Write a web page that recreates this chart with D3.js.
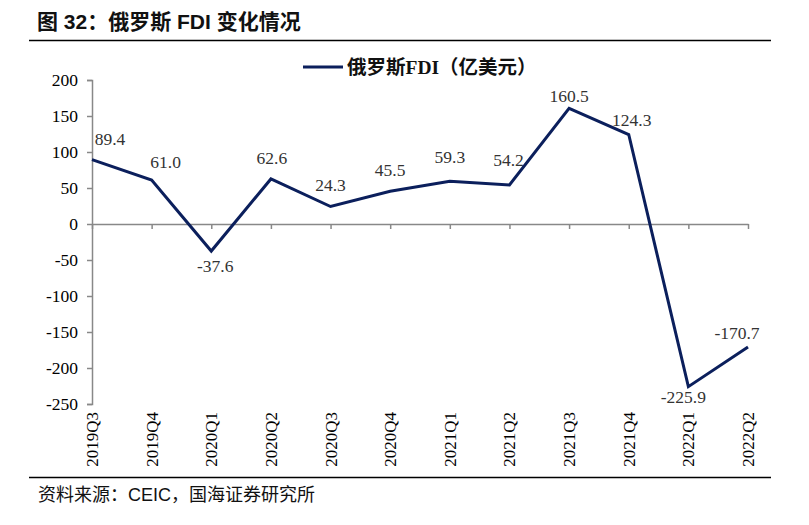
<!DOCTYPE html>
<html>
<head>
<meta charset="utf-8">
<script src="https://cdn.jsdelivr.net/npm/d3@7"></script>
<style>
  body { margin: 0; background: #fff; }
  svg { display: block; }
</style>
</head>
<body>
<script>
const width = 809;
const height = 525;

// 数据
const quarters = ["2019Q3", "2019Q4", "2020Q1", "2020Q2", "2020Q3", "2020Q4",
    "2021Q1", "2021Q2", "2021Q3", "2021Q4", "2022Q1", "2022Q2"];
const fdi = [89.4, 61.0, -37.6, 62.6, 24.3, 45.5, 59.3, 54.2, 160.5, 124.3, -225.9, -170.7];
const yTicks = [200, 150, 100, 50, 0, -50, -100, -150, -200, -250];

// 数据标签相对点的偏移 [dx, dy]
const labelOffsets = [[18, -15], [14, -12], [4, 21], [1, -15], [0, -16], [0, -15],
    [0, -18], [-1, -19], [0, -6], [3, -9], [-5, 16], [-11, -8]];

const serif = "'Liberation Serif', 'Times New Roman', serif";
const cjk = "'Noto Sans CJK SC', sans-serif";
const lineColor = "#0b1f5c";

const svg = d3.select("body")
    .append("svg")
    .attr("width", width)
    .attr("height", height);

// 标题
svg.append("text")
    .attr("x", 37)
    .attr("y", 29)
    .attr("font-family", "'Liberation Sans', " + cjk)
    .attr("font-size", "21px")
    .attr("font-weight", "bold")
    .attr("fill", "#111")
    .text("图 32：俄罗斯 FDI 变化情况");

svg.append("line")
    .attr("x1", 29).attr("x2", 771)
    .attr("y1", 40.5).attr("y2", 40.5)
    .attr("stroke", "#000").attr("stroke-width", 1.3);

svg.append("line")
    .attr("x1", 29).attr("x2", 771)
    .attr("y1", 477.5).attr("y2", 477.5)
    .attr("stroke", "#000").attr("stroke-width", 1.3);

// 来源
svg.append("text")
    .attr("x", 38)
    .attr("y", 501)
    .attr("font-family", "'Liberation Sans', " + cjk)
    .attr("font-size", "18px")
    .attr("fill", "#111")
    .text("资料来源：CEIC，国海证券研究所");

// 比例尺
const x = d3.scalePoint()
    .domain(quarters)
    .range([92, 748]);

const y = d3.scaleLinear()
    .domain([-250, 200])
    .range([404, 80]);

// y 轴
const yAxis = svg.append("g")
    .attr("transform", "translate(92,0)")
    .call(d3.axisLeft(y).tickValues(yTicks).tickSize(5).tickPadding(9).tickFormat(d => String(d)));
yAxis.select(".domain").attr("stroke", "#888").attr("stroke-width", 1.5);
yAxis.selectAll(".tick line").attr("stroke", "#888").attr("stroke-width", 1.5);
yAxis.selectAll("text")
    .attr("font-family", serif)
    .attr("font-size", "17.5px")
    .attr("fill", "#000");

// 零线（类别轴）
const xAxis = svg.append("g")
    .attr("transform", `translate(0,${y(0)})`)
    .call(d3.axisBottom(x).tickSize(5).tickSizeOuter(0).tickFormat(""));
xAxis.select(".domain").attr("stroke", "#888").attr("stroke-width", 1.5);
xAxis.selectAll(".tick line").attr("stroke", "#888").attr("stroke-width", 1.5);

// x 轴标签
svg.append("g")
    .selectAll("text")
    .data(quarters)
    .enter()
    .append("text")
    .attr("transform", d => `translate(${x(d) + 6},412) rotate(-90)`)
    .attr("text-anchor", "end")
    .attr("font-family", serif)
    .attr("font-size", "17px")
    .attr("fill", "#000")
    .text(d => d);

// 折线
const line = d3.line()
    .x((d, i) => x(quarters[i]))
    .y(d => y(d));

svg.append("path")
    .datum(fdi)
    .attr("d", line)
    .attr("fill", "none")
    .attr("stroke", lineColor)
    .attr("stroke-width", 3)
    .attr("stroke-linejoin", "miter");

// 数据标签
svg.append("g")
    .selectAll("text")
    .data(fdi)
    .enter()
    .append("text")
    .attr("x", (d, i) => x(quarters[i]) + labelOffsets[i][0])
    .attr("y", (d, i) => y(d) + labelOffsets[i][1])
    .attr("text-anchor", "middle")
    .attr("font-family", serif)
    .attr("font-size", "17.5px")
    .attr("fill", "#333")
    .text(d => d.toFixed(1));

// 图例
svg.append("line")
    .attr("x1", 303).attr("x2", 343)
    .attr("y1", 67).attr("y2", 67)
    .attr("stroke", lineColor).attr("stroke-width", 3);

svg.append("text")
    .attr("x", 347)
    .attr("y", 74)
    .attr("font-family", "'Liberation Serif', " + cjk)
    .attr("font-size", "19.5px")
    .attr("font-weight", "bold")
    .attr("fill", "#111")
    .text("俄罗斯FDI（亿美元）");
</script>
</body>
</html>
